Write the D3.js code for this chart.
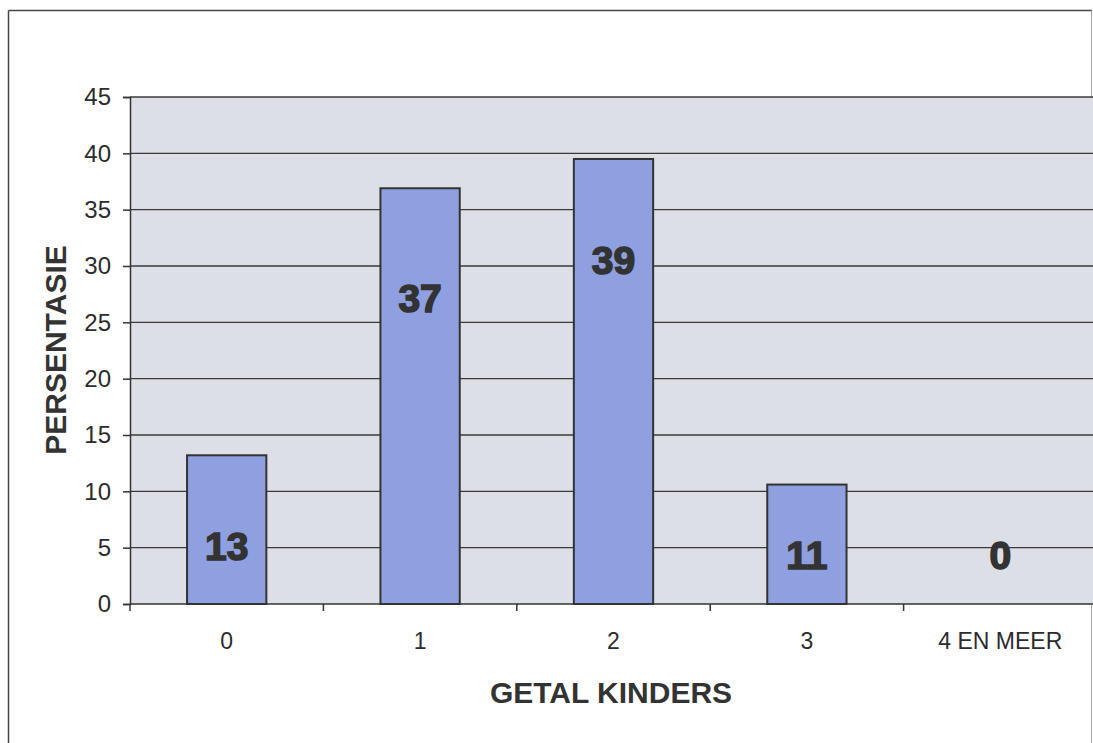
<!DOCTYPE html>
<html>
<head>
<meta charset="utf-8">
<script src="https://cdn.jsdelivr.net/npm/d3@7"></script>
<style>
  html, body { margin: 0; padding: 0; background: #fff; }
  svg { display: block; font-family: "Liberation Sans", Arial, sans-serif; }
</style>
</head>
<body>
<svg id="chart" width="1093" height="743"></svg>
<script>
// chart data
const categories = ['0', '1', '2', '3', '4 EN MEER'];
const percentages = [13.2, 36.9, 39.5, 10.6, 0];
const valueLabels = ['13', '37', '39', '11', '0'];
// where each value label sits, in axis units
const labelAt = [5.15, 27.2, 30.5, 4.35, 4.35];
const yTicks = [0, 5, 10, 15, 20, 25, 30, 35, 40, 45];

const svg = d3.select('#chart');

// outer frame: dark left/top, faint right edge
svg.append('line')
    .attr('x1', 8.5).attr('x2', 8.5).attr('y1', 10.5).attr('y2', 743)
    .attr('stroke', '#444').attr('stroke-width', 1.5);
svg.append('line')
    .attr('x1', 8.5).attr('x2', 1092).attr('y1', 10.5).attr('y2', 10.5)
    .attr('stroke', '#444').attr('stroke-width', 1.5);
svg.append('line')
    .attr('x1', 1091.5).attr('x2', 1091.5).attr('y1', 10.5).attr('y2', 743)
    .attr('stroke', '#aaa').attr('stroke-width', 1);

const plotLeft = 130, plotRight = 1097, plotTop = 97, plotBottom = 604;

const y = d3.scaleLinear().domain([0, 45]).range([plotBottom, plotTop]);
const x = d3.scaleBand().domain(categories).range([plotLeft, plotRight])
    .paddingInner(0.59).paddingOuter(0.295);

// plot background
svg.append('rect')
    .attr('x', plotLeft).attr('y', plotTop)
    .attr('width', plotRight - plotLeft).attr('height', plotBottom - plotTop)
    .attr('fill', '#dcdfe5');

// gridlines
svg.append('g')
    .selectAll('line')
    .data(yTicks.filter(t => t > 0))
    .enter().append('line')
    .attr('x1', plotLeft).attr('x2', plotRight)
    .attr('y1', d => y(d)).attr('y2', d => y(d))
    .attr('stroke', '#3a3a3a')
    .attr('stroke-width', 1.4);

// bars (zero-height bar is not drawn)
svg.append('g')
    .selectAll('rect')
    .data(categories.filter((d, i) => percentages[i] > 0))
    .enter().append('rect')
    .attr('x', d => x(d))
    .attr('y', d => y(percentages[categories.indexOf(d)]))
    .attr('width', x.bandwidth())
    .attr('height', d => y(0) - y(percentages[categories.indexOf(d)]))
    .attr('fill', '#8ea0e0')
    .attr('stroke', '#333')
    .attr('stroke-width', 2);

// y axis
const yAxis = svg.append('g')
    .attr('transform', `translate(${plotLeft},0)`)
    .call(d3.axisLeft(y).tickValues(yTicks).tickSize(7).tickPadding(12));
yAxis.select('.domain').attr('stroke', '#333').attr('stroke-width', 1.5);
yAxis.selectAll('.tick line').attr('stroke', '#333').attr('stroke-width', 1.5);
yAxis.selectAll('.tick text')
    .attr('fill', '#2b2b2b')
    .style('font-size', '24px');

// x axis: ticks between categories
const step = x.step();
const boundaries = categories.map(c => x(c) + x.bandwidth() / 2 - step / 2).concat([plotRight]);
svg.append('line')
    .attr('x1', plotLeft).attr('x2', plotRight)
    .attr('y1', plotBottom).attr('y2', plotBottom)
    .attr('stroke', '#333').attr('stroke-width', 1.6);
svg.append('g')
    .selectAll('line')
    .data(boundaries)
    .enter().append('line')
    .attr('x1', d => d).attr('x2', d => d)
    .attr('y1', plotBottom).attr('y2', plotBottom + 7)
    .attr('stroke', '#333').attr('stroke-width', 1.5);
svg.append('g')
    .selectAll('text')
    .data(categories)
    .enter().append('text')
    .attr('x', d => x(d) + x.bandwidth() / 2)
    .attr('y', 649)
    .attr('text-anchor', 'middle')
    .attr('fill', '#2b2b2b')
    .style('font-size', '23px')
    .text(d => d);

// value labels
svg.append('g')
    .selectAll('text')
    .data(categories)
    .enter().append('text')
    .attr('x', d => x(d) + x.bandwidth() / 2)
    .attr('y', (d, i) => y(labelAt[i]))
    .attr('dy', '0.36em')
    .attr('text-anchor', 'middle')
    .attr('fill', '#333')
    .attr('stroke', '#333')
    .attr('stroke-width', 1.6)
    .style('font-size', '39px')
    .style('font-weight', 'bold')
    .text((d, i) => valueLabels[i]);

// axis titles
svg.append('text')
    .attr('x', 611).attr('y', 703)
    .attr('text-anchor', 'middle')
    .attr('fill', '#333')
    .style('font-size', '30px')
    .style('font-weight', 'bold')
    .text('GETAL KINDERS');

svg.append('text')
    .attr('transform', 'translate(66,350) rotate(-90)')
    .attr('text-anchor', 'middle')
    .attr('fill', '#333')
    .style('font-size', '30px')
    .style('font-weight', 'bold')
    .text('PERSENTASIE');
</script>
</body>
</html>
